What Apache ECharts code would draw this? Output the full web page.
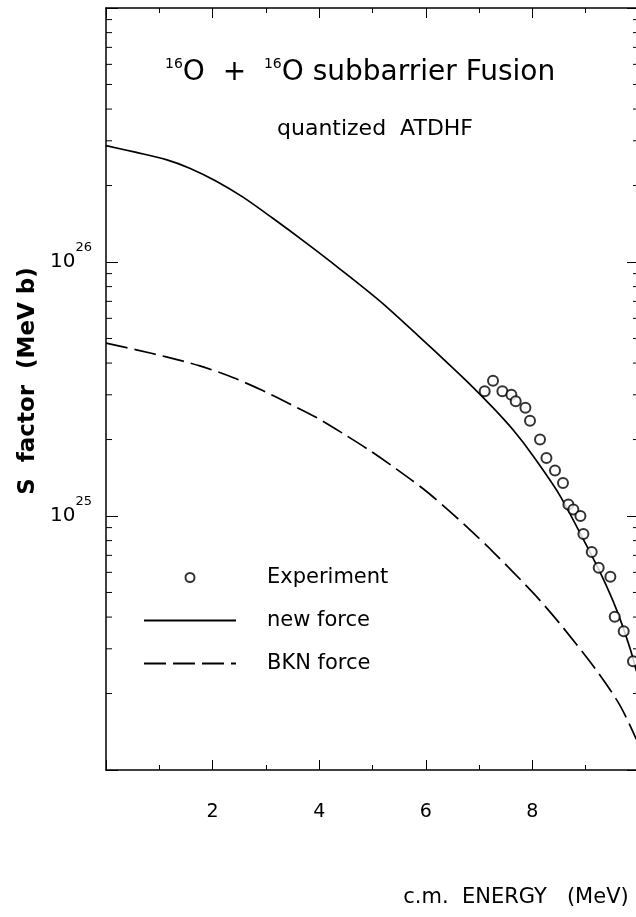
<!DOCTYPE html>
<html><head><meta charset="utf-8">
<script src="https://cdn.jsdelivr.net/npm/echarts@6/dist/echarts.min.js"></script>
<style>html,body{margin:0;padding:0;background:#fff}#c{width:636px;height:917px}</style>
</head><body><div id="c"></div>
<script>
// ---- data ----
const expE = [7.105, 7.261, 7.437, 7.606, 7.687, 7.869, 7.955, 8.143, 8.263, 8.424, 8.574, 8.675, 8.769, 8.901, 8.957, 9.113, 9.244, 9.463, 9.544, 9.713, 9.887];
const expS = [3.10e25, 3.41e25, 3.10e25, 3.00e25, 2.83e25, 2.67e25, 2.37e25, 2.00e25, 1.69e25, 1.51e25, 1.35e25, 1.11e25, 1.06e25, 1.00e25, 8.49e24, 7.21e24, 6.26e24, 5.77e24, 4.01e24, 3.52e24, 2.68e24];

const newE = [0, 0.57, 1.13, 1.57, 2.07, 2.57, 3.13, 3.76, 4.39, 5.14, 5.89, 6.45, 6.81, 7.26, 7.64, 8.0, 8.5, 9.0, 9.3, 9.58, 9.83, 9.95];
const newS = [2.87e26, 2.70e26, 2.53e26, 2.34e26, 2.08e26, 1.80e26, 1.486e26, 1.186e26, 9.38e25, 7.01e25, 5.05e25, 3.93e25, 3.33e25, 2.67e25, 2.18e25, 1.74e25, 1.22e25, 7.76e24, 5.82e24, 4.27e24, 3.02e24, 2.45e24];

const bknE = [0, 0.57, 1.13, 1.76, 2.38, 2.95, 3.45, 3.95, 4.45, 4.95, 5.45, 5.95, 6.39, 6.81, 7.26, 8.01, 8.51, 9.2, 9.64, 9.95];
const bknS = [4.79e25, 4.51e25, 4.23e25, 3.90e25, 3.51e25, 3.11e25, 2.76e25, 2.44e25, 2.11e25, 1.81e25, 1.53e25, 1.28e25, 1.07e25, 8.9e24, 7.23e24, 4.99e24, 3.78e24, 2.47e24, 1.80e24, 1.32e24];

const xTickLabels = [2, 4, 6, 8];
const yLabelExponents = [25, 26];
const logMantissas = [2, 3, 4, 5, 6, 7, 8, 9];
const logDecades = [24, 25, 26];

const seriesNames = ['Experiment', 'new force', 'BKN force'];
const titleText = ['16', 'O  +  ', '16', 'O subbarrier Fusion'];
const subtitleText = 'quantized  ATDHF';
const xTitle = 'c.m.  ENERGY   (MeV)';
const yTitle = 'S  factor  (MeV b)';

// ---- build ----
const FF = 'DejaVu Sans';
const zip = (a, b) => a.map((v, i) => [v, b[i]]);
const minorTicks = [];
logDecades.forEach(d => logMantissas.forEach(m => minorTicks.push([0, m * Math.pow(10, d)])));

const chart = echarts.init(document.getElementById('c'), null, {renderer: 'canvas'});
const axisCommon = {
  min: 0, max: 10, interval: 2,
  axisLine: {show: true, onZero: false, lineStyle: {color: '#000', width: 1.5}},
  axisTick: {show: true, inside: true, length: 10, lineStyle: {color: '#000', width: 1}},
  minorTick: {show: true, splitNumber: 2, length: 5, lineStyle: {color: '#000', width: 1}},
  splitLine: {show: false}, minorSplitLine: {show: false}
};
chart.setOption({
  animation: false,
  backgroundColor: '#fff',
  title: [{
    text: `{sup|${titleText[0]}}{m|${titleText[1]}}{sup|${titleText[2]}}{m|${titleText[3]}}`,
    left: 160, top: 52,
    textStyle: {fontWeight: 'normal', rich: {
      m: {fontFamily: FF, fontSize: 28, fontWeight: 'normal', lineHeight: 32, color: '#000'},
      sup: {fontFamily: FF, fontSize: 14, fontWeight: 'normal', lineHeight: 14, verticalAlign: 'top', color: '#000'}
    }}
  }, {
    text: subtitleText, left: 272, top: 113,
    textStyle: {fontFamily: FF, fontSize: 22, fontWeight: 'normal', color: '#000'}
  }],
  legend: {
    orient: 'vertical', left: 138, top: 562,
    itemWidth: 92, itemHeight: 9, itemGap: 22,
    selectedMode: false,
    data: [
      {name: seriesNames[0]},
      {name: seriesNames[1], itemStyle: {opacity: 0}},
      {name: seriesNames[2], itemStyle: {opacity: 0}}
    ],
    textStyle: {fontFamily: FF, fontSize: 21, color: '#000', padding: [0, 0, 0, 26]}
  },
  grid: {left: 106, top: 8, width: 533, height: 762, containLabel: false, outerBoundsMode: 'none'},
  xAxis: [
    Object.assign({}, axisCommon, {type: 'value', position: 'bottom',
      axisLabel: {show: true, margin: 33, fontFamily: FF, fontSize: 19, color: '#000',
        formatter: v => xTickLabels.includes(Math.round(v)) ? String(Math.round(v)) : ''}}),
    Object.assign({}, axisCommon, {type: 'value', position: 'top', axisLabel: {show: false}})
  ],
  yAxis: [
    {type: 'log', logBase: 10, min: 1e24, max: 1e27, position: 'left',
      axisLine: {show: true, onZero: false, lineStyle: {color: '#000', width: 1.5}},
      axisTick: {show: true, inside: true, length: 12, lineStyle: {color: '#000', width: 1}},
      splitLine: {show: false},
      axisLabel: {show: true, margin: 14,
        formatter: v => {const e = Math.round(Math.log10(v)); return yLabelExponents.includes(e) ? `{b|10}{s|${e}}` : '';},
        rich: {
          b: {fontFamily: FF, fontSize: 20, lineHeight: 42, color: '#000'},
          s: {fontFamily: FF, fontSize: 13, lineHeight: 13, verticalAlign: 'top', color: '#000'}
        }}},
    {type: 'log', logBase: 10, min: 1e24, max: 1e27, position: 'right',
      axisLine: {show: true, onZero: false, lineStyle: {color: '#000', width: 1.5}},
      axisTick: {show: true, inside: true, length: 12, lineStyle: {color: '#000', width: 1}},
      splitLine: {show: false}, axisLabel: {show: false}}
  ],
  series: [
    {name: seriesNames[0], type: 'scatter', data: zip(expE, expS), symbol: 'emptyCircle', symbolSize: 10,
      itemStyle: {color: '#000', borderColor: '#000', borderWidth: 1.4}, z: 5},
    {name: seriesNames[1], type: 'line', data: zip(newE, newS), smooth: 0.3, symbol: 'none', showSymbol: false,
      lineStyle: {color: '#000', width: 1.7, type: 'solid'}, itemStyle: {color: '#000'}},
    {name: seriesNames[2], type: 'line', data: zip(bknE, bknS), smooth: 0.3, symbol: 'none', showSymbol: false,
      lineStyle: {color: '#000', width: 1.7, type: [22, 7]}, itemStyle: {color: '#000'}},
    {name: 'minorTicks', type: 'custom', data: minorTicks, silent: true, clip: false,
      encode: {x: 0, y: 1},
      renderItem: (params, api) => {
        const v = api.value(1);
        const pL = api.coord([0, v]);
        const pR = api.coord([10, v]);
        return {type: 'group', children: [
          {type: 'line', shape: {x1: pL[0], y1: pL[1], x2: pL[0] + 6, y2: pL[1]}, style: {stroke: '#000', lineWidth: 1}},
          {type: 'line', shape: {x1: pR[0] - 6, y1: pR[1], x2: pR[0], y2: pR[1]}, style: {stroke: '#000', lineWidth: 1}}
        ]};
      }}
  ],
  graphic: [
    {type: 'text', x: 28, y: 381, rotation: Math.PI / 2,
      style: {text: yTitle, fontFamily: FF, fontSize: 23, fontWeight: 'bold', fill: '#000', align: 'center', verticalAlign: 'middle'}},
    {type: 'text', x: 516, y: 898,
      style: {text: xTitle, fontFamily: FF, fontSize: 21, fill: '#000', align: 'center', verticalAlign: 'middle'}}
  ]
});
</script>
</body></html>
